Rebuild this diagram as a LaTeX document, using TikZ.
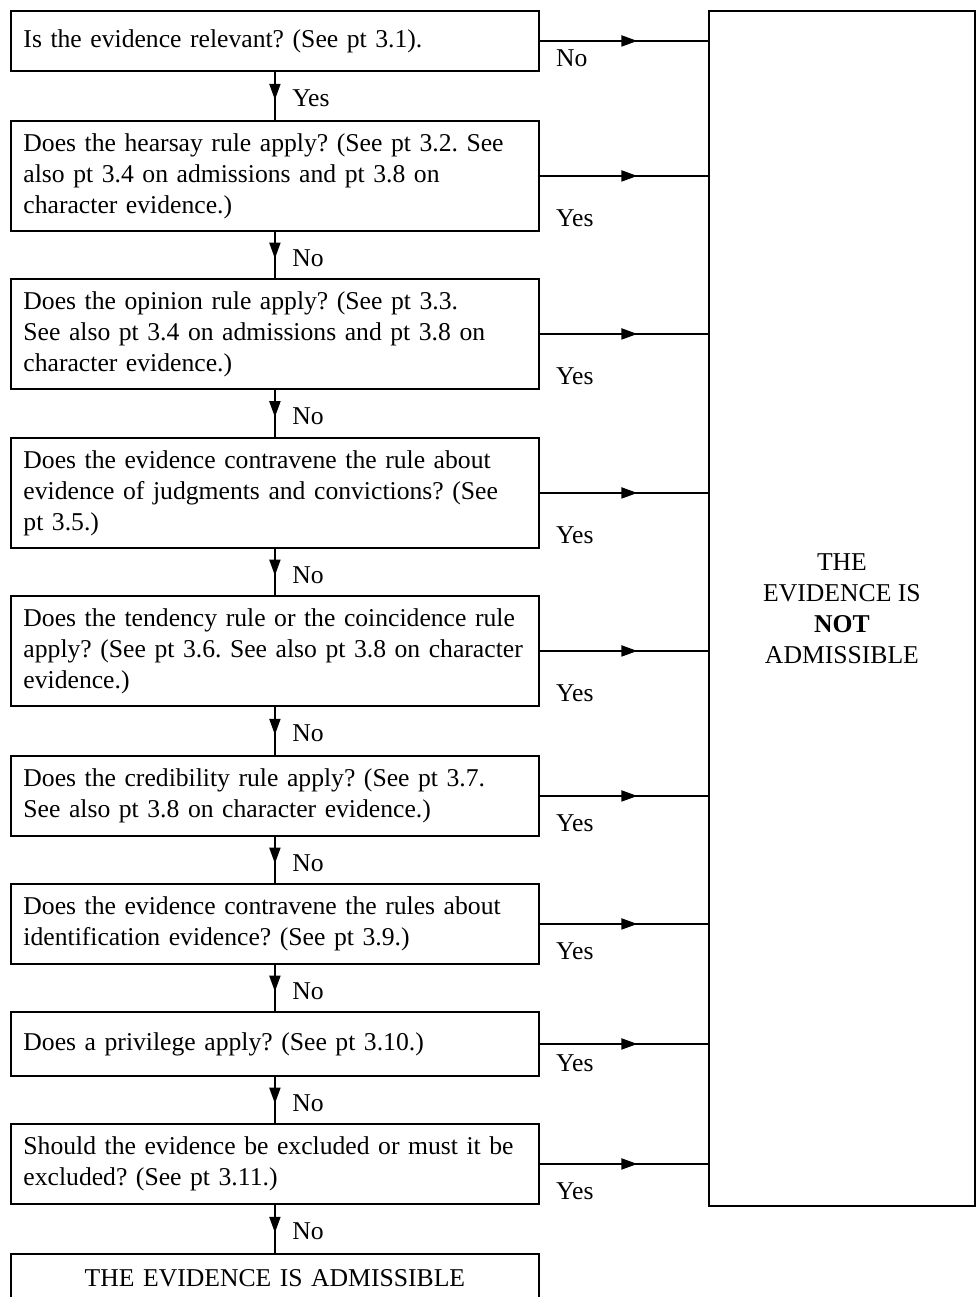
\documentclass[tikz,border=0pt]{standalone}
\usepackage{fontspec}
\setmainfont{Liberation Serif}
\usetikzlibrary{arrows.meta,decorations.markings,calc}
\frenchspacing

\begin{document}
\begin{tikzpicture}[x=0.02cm, y=-0.02cm,
	pregunta/.style={draw, line width=1.1pt, anchor=north west, text width=10.06cm, inner xsep=0.25cm, inner ysep=0pt, align=left, font=\fontsize{14.6}{17.6}\selectfont},
	flecha/.style={line width=1.1pt, decoration={markings, mark=at position 0.58 with {\arrow{Triangle[length=0.32cm,width=0.22cm]}}}, postaction={decorate}},
	etiqueta/.style={anchor=west, inner sep=0pt, font=\fontsize{14.6}{17.6}\selectfont}]
				%Marco
				\useasboundingbox (0,0) rectangle (976,1297);
				%Preguntas
				\node[pregunta, minimum height=1.2cm] (p1) at (10,10) {Is the evidence relevant? (See pt 3.1).};
				\node[pregunta, minimum height=2.2cm] (p2) at (10,120) {Does the hearsay rule apply? (See pt 3.2. See\\also pt 3.4 on admissions and pt 3.8 on\\character evidence.)};
				\node[pregunta, minimum height=2.2cm] (p3) at (10,278) {Does the opinion rule apply? (See pt 3.3.\\See also pt 3.4 on admissions and pt 3.8 on\\character evidence.)};
				\node[pregunta, minimum height=2.2cm] (p4) at (10,437) {Does the evidence contravene the rule about\\evidence of judgments and convictions? (See\\pt 3.5.)};
				\node[pregunta, minimum height=2.2cm] (p5) at (10,595) {Does the tendency rule or the coincidence rule\\apply? (See pt 3.6. See also pt 3.8 on character\\evidence.)};
				\node[pregunta, minimum height=1.6cm] (p6) at (10,755) {Does the credibility rule apply? (See pt 3.7.\\See also pt 3.8 on character evidence.)};
				\node[pregunta, minimum height=1.6cm] (p7) at (10,883) {Does the evidence contravene the rules about\\identification evidence? (See pt 3.9.)};
				\node[pregunta, minimum height=1.28cm] (p8) at (10,1011) {Does a privilege apply? (See pt 3.10.)};
				\node[pregunta, minimum height=1.6cm] (p9) at (10,1123) {Should the evidence be excluded or must it be\\excluded? (See pt 3.11.)};
				\node[pregunta, minimum height=0.96cm, align=center] (si) at (10,1253) {THE EVIDENCE IS ADMISSIBLE};
				%Caja derecha
				\node[draw, line width=1.1pt, anchor=north west, minimum width=5.32cm, minimum height=23.9cm, align=center, font=\fontsize{14.6}{17.6}\selectfont] (no) at (708,10) {THE\\EVIDENCE IS\\\textbf{NOT}\\ADMISSIBLE};

				%Flechas hacia abajo
				\draw[flecha] (p1.south) -- (p2.north);
				\draw[flecha] (p2.south) -- (p3.north);
				\draw[flecha] (p3.south) -- (p4.north);
				\draw[flecha] (p4.south) -- (p5.north);
				\draw[flecha] (p5.south) -- (p6.north);
				\draw[flecha] (p6.south) -- (p7.north);
				\draw[flecha] (p7.south) -- (p8.north);
				\draw[flecha] (p8.south) -- (p9.north);
				\draw[flecha] (p9.south) -- (si.north);
				\node[etiqueta] (b1) at ($(p1.south)+(17,26)$) {Yes};
				\node[etiqueta] (b2) at ($(p2.south)+(17,26)$) {No};
				\node[etiqueta] (b3) at ($(p3.south)+(17,26)$) {No};
				\node[etiqueta] (b4) at ($(p4.south)+(17,26)$) {No};
				\node[etiqueta] (b5) at ($(p5.south)+(17,26)$) {No};
				\node[etiqueta] (b6) at ($(p6.south)+(17,26)$) {No};
				\node[etiqueta] (b7) at ($(p7.south)+(17,26)$) {No};
				\node[etiqueta] (b8) at ($(p8.south)+(17,26)$) {No};
				\node[etiqueta] (b9) at ($(p9.south)+(17,26)$) {No};

				%Flechas a la derecha
				\draw[flecha] (p1.east) -- (p1.east -| no.west);
				\draw[flecha] (p2.east) -- (p2.east -| no.west);
				\draw[flecha] (p3.east) -- (p3.east -| no.west);
				\draw[flecha] (p4.east) -- (p4.east -| no.west);
				\draw[flecha] (p5.east) -- (p5.east -| no.west);
				\draw[flecha] (p6.east) -- (p6.east -| no.west);
				\draw[flecha] (p7.east) -- (p7.east -| no.west);
				\draw[flecha] (p8.east) -- (p8.east -| no.west);
				\draw[flecha] (p9.east) -- (p9.east -| no.west);
				\node[etiqueta] (d1) at ($(p1.south east)+(16,-14)$) {No};
				\node[etiqueta] (d2) at ($(p2.south east)+(16,-14)$) {Yes};
				\node[etiqueta] (d3) at ($(p3.south east)+(16,-14)$) {Yes};
				\node[etiqueta] (d4) at ($(p4.south east)+(16,-14)$) {Yes};
				\node[etiqueta] (d5) at ($(p5.south east)+(16,-14)$) {Yes};
				\node[etiqueta] (d6) at ($(p6.south east)+(16,-14)$) {Yes};
				\node[etiqueta] (d7) at ($(p7.south east)+(16,-14)$) {Yes};
				\node[etiqueta] (d8) at ($(p8.south east)+(16,-14)$) {Yes};
				\node[etiqueta] (d9) at ($(p9.south east)+(16,-14)$) {Yes};
\end{tikzpicture}
\end{document}
